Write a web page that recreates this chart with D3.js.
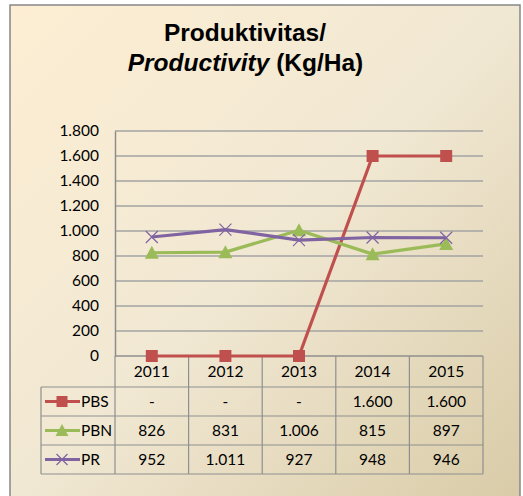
<!DOCTYPE html>
<html><head><meta charset="utf-8">
<script src="https://cdn.jsdelivr.net/npm/d3@7"></script>
<style>html,body{margin:0;padding:0;background:#fff;}svg{display:block;}</style>
</head><body>
<svg id="c" width="523" height="496"></svg>
<script>
const years = ["2011","2012","2013","2014","2015"];
const pbs = [0, 0, 0, 1600, 1600];
const pbn = [826, 831, 1006, 815, 897];
const pr  = [952, 1011, 927, 948, 946];
const seriesNames = ["PBS", "PBN", "PR"];
const yTicks = [0, 200, 400, 600, 800, 1000, 1200, 1400, 1600, 1800];

const series = [
  {name: seriesNames[0], values: pbs, color: "#c0504d", marker: "square"},
  {name: seriesNames[1], values: pbn, color: "#9bbb59", marker: "triangle"},
  {name: seriesNames[2], values: pr,  color: "#8064a2", marker: "x"}
];

const svg = d3.select("#c");
const defs = svg.append("defs");
const grad = defs.append("linearGradient").attr("id","bg").attr("x1","0").attr("y1","0").attr("x2","1").attr("y2","1");
grad.append("stop").attr("offset","0").attr("stop-color","#fdeed3");
grad.append("stop").attr("offset","0.5").attr("stop-color","#f1e8d3");
grad.append("stop").attr("offset","1").attr("stop-color","#d9cba7");

svg.append("rect").attr("x",10).attr("y",5).attr("width",510).attr("height",500)
  .attr("fill","url(#bg)").attr("stroke","#878787").attr("stroke-width",1.5);

const font = "Lato, 'Open Sans', sans-serif";
const fs = 15.5;
const nf = d3.formatLocale({decimal:",", thousands:".", grouping:[3], currency:["",""]}).format(",d");

// title
svg.append("text").attr("x",245).attr("y",41).attr("text-anchor","middle")
  .attr("font-family","'Liberation Sans', Arial, sans-serif").attr("font-weight","bold").attr("font-size",24.5).attr("fill","#000")
  .text("Produktivitas/");
const t2 = svg.append("text").attr("x",245.5).attr("y",71).attr("text-anchor","middle")
  .attr("font-family","'Liberation Sans', Arial, sans-serif").attr("font-weight","bold").attr("font-size",24.5).attr("fill","#000");
t2.append("tspan").attr("font-style","italic").text("Productivity");
t2.append("tspan").text(" (Kg/Ha)");

const x = d3.scaleBand().domain(years).range([115, 483]);
const y = d3.scaleLinear().domain([0, 1800]).range([356, 131]);

// grid
svg.append("g").selectAll("line").data(yTicks.filter(d=>d>0)).join("line")
  .attr("x1",115).attr("x2",483).attr("y1",d=>y(d)).attr("y2",d=>y(d))
  .attr("stroke","#a3a3a3").attr("stroke-width",1.5);

// y axis
const yAxis = svg.append("g").attr("transform","translate(115,0)")
  .call(d3.axisLeft(y).tickValues(yTicks).tickFormat(nf).tickSize(0).tickPadding(16));
yAxis.select(".domain").attr("stroke","#8c8c8c").attr("stroke-width",1.5);
yAxis.selectAll("text").attr("font-family",font).attr("font-size",fs).attr("fill","#000");

// table
const rowTops = [356, 387, 416, 445, 474];
const tg = svg.append("g").attr("stroke","#8f8f8f").attr("stroke-width",1.2).attr("fill","none");
tg.append("line").attr("x1",115).attr("x2",483).attr("y1",356).attr("y2",356).attr("stroke-width",1.5);
[387,416,445,474].forEach(v=>{
  tg.append("line").attr("x1",41).attr("x2",483).attr("y1",v).attr("y2",v);
});
const colEdges = years.map(d=>x(d)).concat([483]);
colEdges.forEach(v=>{
  tg.append("line").attr("x1",v).attr("x2",v).attr("y1",356).attr("y2",474);
});
tg.append("line").attr("x1",41).attr("x2",41).attr("y1",387).attr("y2",474);

// header text
svg.append("g").selectAll("text").data(years).join("text")
  .attr("x",d=>x(d)+x.bandwidth()/2).attr("y",377).attr("text-anchor","middle")
  .attr("font-family",font).attr("font-size",fs).attr("fill","#000").text(d=>d);

function drawMarker(g, type, color, cx, cy, s) {
  if (type === "square") {
    g.append("rect").attr("x",cx-s/2).attr("y",cy-s/2).attr("width",s).attr("height",s).attr("fill",color);
  } else if (type === "triangle") {
    g.append("path").attr("d",`M${cx},${cy-s/2-1}L${cx+s/2+1},${cy+s/2}L${cx-s/2-1},${cy+s/2}Z`).attr("fill",color);
  } else {
    const h = s/2;
    g.append("path").attr("d",`M${cx-h},${cy-h}L${cx+h},${cy+h}M${cx-h},${cy+h}L${cx+h},${cy-h}`)
      .attr("stroke",color).attr("stroke-width",1.2).attr("fill","none");
  }
}

// table rows
series.forEach((s,i)=>{
  const cy = (rowTops[i+1]+rowTops[i+2])/2;
  const lg = svg.append("g");
  lg.append("line").attr("x1",45).attr("x2",80).attr("y1",cy).attr("y2",cy).attr("stroke",s.color).attr("stroke-width",3);
  drawMarker(lg, s.marker, s.color, 62, cy, 11);
  svg.append("text").attr("x",81).attr("y",cy+5.5).attr("font-family",font).attr("font-size",fs).attr("fill","#000").text(s.name);
  svg.append("g").selectAll("text").data(s.values).join("text")
    .attr("x",(d,j)=>x(years[j])+x.bandwidth()/2).attr("y",cy+5.5).attr("text-anchor","middle")
    .attr("font-family",font).attr("font-size",fs).attr("fill","#000")
    .text(d=> d === 0 ? "-" : nf(d));
});

// lines
const line = d3.line().x((d,j)=>x(years[j])+x.bandwidth()/2).y(d=>y(d));
series.forEach(s=>{
  const g = svg.append("g");
  g.append("path").attr("d",line(s.values)).attr("fill","none").attr("stroke",s.color)
    .attr("stroke-width",3.2).attr("stroke-linejoin","round");
  s.values.forEach((v,j)=>drawMarker(g, s.marker, s.color, x(years[j])+x.bandwidth()/2, y(v), 12));
});
</script>
</body></html>
